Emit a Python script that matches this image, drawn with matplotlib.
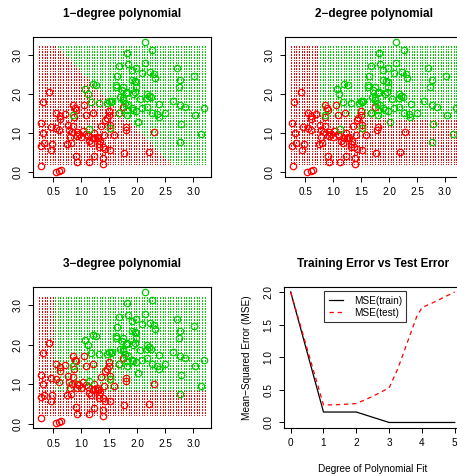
import numpy as np
import matplotlib
matplotlib.use("Agg")
import matplotlib.pyplot as plt
from matplotlib.path import Path

plt.rcParams["font.family"] = ["Liberation Sans", "DejaVu Sans"]

RED = "#FF0000"
GREEN = "#00CD00"
MINUS = "\u2212"

# observations, class 1 (red)
red_x = [0.27, 0.31, 0.42, 0.32, 0.27, 0.34, 0.28, 0.46, 0.48, 0.45, 0.54, 0.60, 0.64,
         0.55, 0.60, 0.55, 0.61, 0.61, 0.70, 0.76, 0.78, 0.79, 0.75, 0.81, 0.83, 0.85,
         0.85, 0.89, 0.90, 0.86, 0.92, 0.93, 0.96, 1.00, 0.90, 0.93, 1.05, 1.08, 1.08,
         1.11, 1.13, 1.14, 1.17, 1.20, 1.23, 1.21, 1.23, 1.27, 1.29, 1.32, 1.32, 1.35,
         1.38, 1.39, 1.39, 1.41, 1.42, 1.43, 1.45, 1.49, 1.50, 1.51, 1.51, 1.51, 1.58,
         1.67, 1.75, 1.76, 1.80, 1.79, 2.20, 2.29, 1.25, 1.02, 1.33]
red_y = [1.25, 1.80, 2.06, 1.01, 0.68, 0.74, 0.16, 1.16, 0.73, 0.58, 0.02, 0.04, 0.07,
         1.13, 1.07, 1.51, 1.45, 1.35, 1.49, 1.21, 1.07, 0.91, 0.73, 0.76, 1.02, 1.18,
         1.73, 1.63, 1.59, 1.40, 1.02, 0.92, 0.98, 0.91, 0.42, 0.26, 1.73, 1.47, 0.98,
         0.94, 0.26, 0.79, 0.74, 0.87, 1.00, 1.51, 0.41, 0.90, 0.87, 0.73, 0.66, 1.19,
         0.66, 0.36, 0.21, 0.96, 1.34, 0.59, 1.38, 1.46, 1.57, 1.21, 1.13, 0.58, 0.95,
         1.51, 1.68, 0.49, 1.17, 1.08, 0.51, 1.02, 0.88, 1.05, 0.80]

# observations, class 2 (green)
green_x = [2.13, 2.27, 1.82, 1.68, 1.84, 1.98, 2.13, 2.70, 3.01, 1.64, 1.90, 2.09, 2.23,
           2.30, 2.32, 2.76, 1.90, 1.95, 1.98, 1.20, 1.26, 1.07, 1.11, 1.62, 1.62, 1.75,
           1.80, 1.82, 1.98, 1.96, 1.92, 2.18, 2.21, 2.17, 2.24, 1.72, 1.74, 1.69, 2.05,
           1.75, 2.74, 1.17, 1.32, 1.46, 1.52, 1.50, 1.54, 1.78, 1.84, 1.90, 1.93, 1.81,
           2.08, 2.18, 1.98, 2.39, 2.63, 2.76, 2.85, 3.19, 1.67, 1.81, 2.26, 2.35, 2.38,
           2.49, 2.01, 3.03, 2.78, 3.14, 2.76, 0.85, 1.13, 1.51]
green_y = [3.33, 3.13, 3.05, 2.71, 2.76, 2.67, 2.79, 2.65, 2.47, 2.45, 2.60, 2.54, 2.56,
           2.50, 2.41, 2.35, 2.35, 2.33, 2.30, 2.25, 2.22, 2.12, 1.99, 2.23, 2.17, 2.18,
           2.03, 2.06, 2.17, 2.06, 2.00, 2.01, 1.96, 1.90, 1.91, 2.10, 1.89, 1.91, 1.86,
           1.84, 2.17, 1.80, 1.78, 1.78, 1.80, 1.83, 1.81, 1.76, 1.72, 1.63, 1.59, 1.59,
           1.63, 1.66, 1.57, 1.74, 1.82, 1.73, 1.68, 1.63, 1.51, 1.46, 1.51, 1.48, 1.40,
           1.51, 1.29, 1.46, 1.24, 0.97, 0.77, 1.46, 1.10, 1.13]

# predicted red region of each fit
red_region_deg1 = [(0.0, 0.0), (2.74, 0.0), (0.41, 3.4), (0.0, 3.4)]
red_region_deg2 = [(0.0, 0.0), (3.4, 0.0), (3.4, 1.33), (2.0, 1.36), (1.2, 1.38),
                   (0.8, 1.42), (0.74, 1.5), (0.73, 3.4), (0.0, 3.4)]
red_region_deg3 = [(0.0, 0.0), (3.4, 0.0), (3.4, 0.80), (0.52, 0.82), (0.50, 3.4),
                   (0.0, 3.4)]

# error curves
degrees = [0, 1, 2, 3, 4, 5]
mse_train = [2.0, 0.16, 0.16, 0.0, 0.0, 0.0]
test_deg = [0.0, 1.0, 1.3, 1.7, 2.0, 2.46, 3.0, 3.27, 3.58, 3.84, 4.0, 4.4, 5.0]
mse_test = [2.0, 0.27, 0.27, 0.28, 0.29, 0.39, 0.53, 0.83, 1.26, 1.62, 1.76, 1.85, 2.0]

W, H = 457, 476
# grid where the classifier was evaluated
gx, gy = np.meshgrid(np.linspace(0.25, 3.2, 64), np.linspace(0.2, 3.2, 76))
grid_pts = np.column_stack([gx.ravel(), gy.ravel()])


def box(left, top, right, bottom):
    return [left / W, 1 - bottom / H, (right - left) / W, (bottom - top) / H]


def style(ax):
    ax.tick_params(direction="out", length=3.6, width=0.7, pad=4, labelsize=7.2,
                   colors="black")
    for s in ax.spines.values():
        s.set_linewidth(0.8)
    for lab in ax.get_yticklabels():
        lab.set_rotation(90)
        lab.set_va("center")


def class_panel(ax, region, title):
    inside = Path(region).contains_points(grid_pts)
    ax.plot(grid_pts[inside, 0], grid_pts[inside, 1], ",", color=RED)
    ax.plot(grid_pts[~inside, 0], grid_pts[~inside, 1], ",", color=GREEN)
    ax.plot(red_x, red_y, "o", mfc="none", mec=RED, ms=4.6, mew=0.9)
    ax.plot(green_x, green_y, "o", mfc="none", mec=GREEN, ms=4.6, mew=0.9)
    ax.set_xlim(0.135, 3.31)
    ax.set_ylim(-0.11, 3.46)
    ax.set_xticks([0.5, 1.0, 1.5, 2.0, 2.5, 3.0])
    ax.set_yticks([0.0, 1.0, 2.0, 3.0])
    ax.set_yticklabels(["0.0", "1.0", "2.0", "3.0"])
    ax.set_title(title.replace("-", MINUS), fontsize=8.5, fontweight="bold", pad=14.5)
    style(ax)


fig = plt.figure(figsize=(W / 100, H / 100), dpi=100)
ax1 = fig.add_axes(box(33, 36.7, 210.7, 176.7))
ax2 = fig.add_axes(box(284.7, 36.7, 462.4, 176.7))
ax3 = fig.add_axes(box(33, 287.3, 210.7, 428.3))
ax4 = fig.add_axes(box(284.1, 286.7, 461.3, 427.7))

class_panel(ax1, red_region_deg1, "1-degree polynomial")
class_panel(ax2, red_region_deg2, "2-degree polynomial")
class_panel(ax3, red_region_deg3, "3-degree polynomial")

ax4.plot(degrees, mse_train, color="black", lw=0.9, label="MSE(train)")
ax4.plot(test_deg, mse_test, color=RED, lw=0.9, ls=(0, (3.5, 3)), label="MSE(test)")
ax4.set_xlim(-0.2, 5.2)
ax4.set_ylim(-0.08, 2.08)
ax4.set_xticks(degrees)
ax4.set_yticks([0.0, 0.5, 1.0, 1.5, 2.0])
ax4.set_yticklabels(["0.0", "0.5", "1.0", "1.5", "2.0"])
ax4.set_title("Training Error vs Test Error", fontsize=8.5, fontweight="bold", pad=14.5)
ax4.set_xlabel("Degree of Polynomial Fit", fontsize=7.2, labelpad=11)
ax4.set_ylabel("Mean" + MINUS + "Squared Error (MSE)", fontsize=7.2, labelpad=8)
style(ax4)
leg = ax4.legend(loc="upper left", bbox_to_anchor=(1.02, 2.01),
                 bbox_transform=ax4.transData, fontsize=7.2, frameon=True,
                 fancybox=False, edgecolor="black", handlelength=1.4,
                 borderpad=0.45, labelspacing=0.2, handletextpad=1.1, borderaxespad=0)
leg.get_frame().set_linewidth(0.8)

fig.savefig("out.png", dpi=100)
